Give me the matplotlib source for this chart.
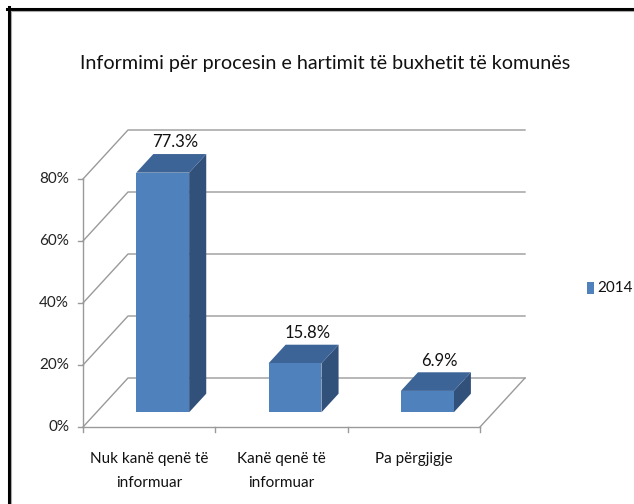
import matplotlib
matplotlib.use("Agg")
import matplotlib.pyplot as plt
from matplotlib.patches import Polygon, Rectangle
from matplotlib.lines import Line2D

plt.rcParams['font.family'] = ['Lato', 'DejaVu Sans']

# data
categories = ["Nuk kanë qenë të\ninformuar", "Kanë qenë të\ninformuar", "Pa përgjigje"]
values = [77.3, 15.8, 6.9]
series_name = "2014"
y_ticks = [0, 20, 40, 60, 80]
title = "Informimi për procesin e hartimit të buxhetit të komunës"

W, H = 634, 504
fig = plt.figure(figsize=(W / 100, H / 100), dpi=100)
ax = fig.add_axes([0, 0, 1, 1])

# front axis: x=0 at 83px, x=3 at 480px ; 0% at 427px, 80% at 179px
px_x = (480 - 83) / 3.0
px_y = (427 - 179) / 80.0
ax.set_xlim(-83 / px_x, (W - 83) / px_x)
ax.set_ylim(-(H - 427) / px_y, 427 / px_y)
ax.axis('off')

# oblique depth offset (in data units) for z = 0..1
DX = 45 / px_x
DY = 49 / px_y
D0, D1 = 0.30, 0.68      # depth range of the bars
bar_w = 0.40

grid_col = '#9a9a9a'
n = len(categories)


def proj(x, y, z):
    return (x + z * DX, y + z * DY)


# walls and floor
for g in y_ticks:
    ax.plot([0, DX, n + DX], [g, g + DY, g + DY], color=grid_col, lw=1, zorder=1)
ax.plot([n, n + DX], [0, DY], color=grid_col, lw=1, zorder=1)
ax.plot([0, n], [0, 0], color=grid_col, lw=1, zorder=1)
ax.plot([0, 0], [0, y_ticks[-1]], color=grid_col, lw=1, zorder=1)

# ticks
tick_x = 5 / px_x
tick_y = 5 / px_y
for g in y_ticks:
    ax.plot([-tick_x, 0], [g, g], color=grid_col, lw=1, zorder=1)
    ax.text(-tick_x - 9 / px_x, g, f"{g}%", ha='right', va='center', fontsize=11, color='#222222')
for i in range(n + 1):
    ax.plot([i, i], [0, -tick_y], color=grid_col, lw=1, zorder=1)

# bars
front_col = '#4f81bd'
top_col = '#3d6496'
side_col = '#31507a'
for i, v in enumerate(values):
    xl = i + 0.5 - bar_w / 2
    xr = i + 0.5 + bar_w / 2
    side = [proj(xr, 0, D0), proj(xr, 0, D1), proj(xr, v, D1), proj(xr, v, D0)]
    top = [proj(xl, v, D0), proj(xr, v, D0), proj(xr, v, D1), proj(xl, v, D1)]
    front = [proj(xl, 0, D0), proj(xr, 0, D0), proj(xr, v, D0), proj(xl, v, D0)]
    ax.add_patch(Polygon(side, closed=True, facecolor=side_col, edgecolor='none', zorder=3))
    ax.add_patch(Polygon(top, closed=True, facecolor=top_col, edgecolor='none', zorder=3))
    ax.add_patch(Polygon(front, closed=True, facecolor=front_col, edgecolor='none', zorder=3))
    lx, ly = proj(i + 0.5, v, (D0 + D1) / 2)
    ax.text(lx + 0.03, v + D1 * DY + 1.2, f"{v}%", ha='center', va='bottom', fontsize=12,
            color='#111111', zorder=4)

# category labels
for i, c in enumerate(categories):
    ax.text(i + 0.5, -(452 - 427) / px_y, c, ha='center', va='top', fontsize=11,
            linespacing=1.95, color='#111111')

# title
fig.text(325 / W, 1 - 63 / H, title, ha='center', va='center', fontsize=14.2, color='#111111')

# legend
fig.add_artist(Rectangle((587 / W, 1 - 294 / H), 7 / W, 12 / H, transform=fig.transFigure,
                         facecolor=front_col, edgecolor='none'))
fig.text(597 / W, 1 - 288 / H, series_name, ha='left', va='center', fontsize=11, color='#111111')

# frame
fig.add_artist(Line2D([8.5 / W, 8.5 / W], [0, 1 - 7 / H], color='black', lw=2.2, transform=fig.transFigure))
fig.add_artist(Line2D([7 / W, 1], [1 - 8.5 / H, 1 - 8.5 / H], color='black', lw=2.2, transform=fig.transFigure))
fig.add_artist(Line2D([11 / W, 11 / W], [0, 1 - 10.5 / H], color='#aaaaaa', lw=0.8, transform=fig.transFigure))
fig.add_artist(Line2D([10.5 / W, 1], [1 - 11 / H, 1 - 11 / H], color='#aaaaaa', lw=0.8, transform=fig.transFigure))

fig.savefig("out.png", dpi=100)
